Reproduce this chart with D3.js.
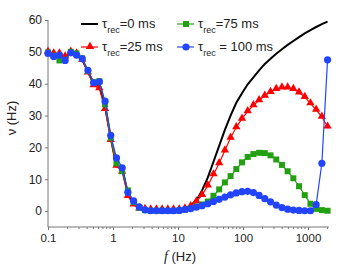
<!DOCTYPE html>
<html>
<head>
<meta charset="utf-8">
<script src="https://cdn.jsdelivr.net/npm/d3@7"></script>
<style>
  body { margin: 0; background: #fff; }
  text { font-family: "Liberation Sans", Arial, sans-serif; fill: #222; }
</style>
</head>
<body>
<script>
// frequencies (Hz), log-spaced samples
var freq = [0.1, 0.1224, 0.1498, 0.1834, 0.2245, 0.2747, 0.3362, 0.4116, 0.5038, 0.6166,
  0.7547, 0.9238, 1.131, 1.384, 1.694, 2.074, 2.538, 3.107, 3.802, 4.654,
  5.697, 6.973, 8.535, 10.45, 12.79, 15.65, 19.16, 23.45, 28.70, 35.13,
  43.00, 52.63, 64.42, 78.85, 96.5, 118.1, 144.6, 177.0, 216.6, 265.1,
  324.5, 397.2, 486.1, 595.0, 728.3, 891.4, 1091, 1335, 1634, 2000];

// output rate (Hz) per tau_rec
var rate0 = [49.8, 49, 49, 48, 49.8, 49, 47.5, 43.8, 40, 39.5,
  33, 23, 14, 13.5, 5.5, 2.5, 0.8, 0.1, 0, 0,
  0, 0, 0.1, 0.3, 0.8, 1.8, 3.3, 6.5, 10.5, 15.5,
  20.5, 25.5, 30, 34, 37, 39.8, 42, 44.2, 46.2, 47.8,
  49.4, 50.8, 52.2, 53.4, 54.6, 55.8, 56.8, 57.8, 58.7, 59.5];
var rate25 = [50, 49.5, 49.5, 48.5, 50, 49.5, 47.5, 43.5, 39.5, 38.5,
  32, 22.3, 14.2, 12.3, 4.7, 2, 0.8, 0.6, 0.5, 0.5,
  0.5, 0.5, 0.5, 0.5, 0.8, 1.5, 3, 5, 8, 11.5,
  15, 19, 23, 26.3, 29, 31.3, 33.2, 34.8, 36.2, 37.4,
  38.3, 38.8, 38.8, 38.3, 37.2, 35.8, 33.8, 31.8, 29.6, 26.5];
var rate75 = [49.8, 48.8, 47.3, 47.5, 50, 49.5, 48, 44, 40.5, 40.8,
  33.5, 23, 15, 12.5, 6.5, 2.8, 1.0, 0.3, 0.1, 0.1,
  0.1, 0.1, 0.1, 0.2, 0.4, 0.8, 1.4, 2.1, 3, 4.8,
  6.8, 9, 11, 13.2, 15.3, 17, 17.9, 18.3, 18.2, 17.5,
  16.2, 14.5, 12.5, 10.3, 7.8, 5, 2.3, 0.7, 0.3, 0.1];
var rate100 = [49.5, 48.5, 49, 47.3, 49.7, 49, 47.8, 44.2, 40.3, 40.6,
  34.5, 23.8, 16.7, 13.6, 5.9, 3.2, 1.3, 0.4, 0.1, 0.1,
  0.1, 0.1, 0.1, 0.2, 0.5, 0.8, 1.2, 1.7, 2.3, 3,
  3.7, 4.4, 5.1, 5.7, 6.1, 6.2, 5.8, 4.9, 3.9, 2.9,
  1.9, 1.1, 0.6, 0.3, 0.2, 0.1, 0.1, 2, 15, 47.5];

var xTicks = [0.1, 1, 10, 100, 1000];
var yTicks = [0, 10, 20, 30, 40, 50, 60];

var width = 364, height = 266;
var svg = d3.select("body").append("svg")
  .attr("width", width).attr("height", height);

var x = d3.scaleLog().domain([0.1, 2100]).range([48, 48 + 65 * Math.log10(21000)]);
var y = d3.scaleLinear().domain([-5, 60]).range([227, 20]);

// minor ticks for the log axis
var minor = [];
[0.1, 1, 10, 100, 1000].forEach(function (d) {
  for (var m = 2; m <= 9; m++) if (d * m <= 2100) minor.push(d * m);
});

var axisColor = "#777";

// x axis
var gx = svg.append("g").attr("transform", "translate(0," + y(-5) + ")");
gx.call(d3.axisBottom(x).tickValues(xTicks).tickFormat(function (d) { return String(d); })
  .tickSize(3).tickPadding(4));
gx.selectAll(".tick text").style("font-size", "11.5px")
  .style("font-family", "'Liberation Sans', Arial, sans-serif").attr("fill", "#222");
gx.selectAll("path, line").attr("stroke", axisColor);
gx.select(".domain").attr("d", "M" + x(0.1) + ",0H" + x(2100));
gx.selectAll(".minor").data(minor).enter().append("line")
  .attr("class", "minor")
  .attr("x1", function (d) { return x(d); }).attr("x2", function (d) { return x(d); })
  .attr("y1", 0).attr("y2", 2)
  .attr("stroke", axisColor);

// y axis
var gy = svg.append("g").attr("transform", "translate(" + x(0.1) + ",0)");
gy.call(d3.axisLeft(y).tickValues(yTicks).tickSize(3).tickPadding(3));
gy.selectAll(".tick text").style("font-size", "12px")
  .style("font-family", "'Liberation Sans', Arial, sans-serif").attr("fill", "#222");
gy.selectAll("path, line").attr("stroke", axisColor);
gy.select(".domain").attr("d", "M0," + y(60) + "V" + y(-5));

// axis titles
svg.append("text")
  .attr("transform", "translate(16," + 118 + ") rotate(-90)")
  .attr("text-anchor", "middle")
  .style("font-size", "13px")
  .text("\u03BD (Hz)");
var xl = svg.append("text")
  .attr("x", 180).attr("y", 261)
  .attr("text-anchor", "middle")
  .style("font-size", "13px");
xl.append("tspan").style("font-style", "italic")
  .style("font-family", "'Liberation Serif', 'DejaVu Serif', serif")
  .style("font-size", "14px").text("f");
xl.append("tspan").text(" (Hz)");

// series
var series = [
  { name: "0", vals: rate0, color: "#000", width: 2, marker: null },
  { name: "25", vals: rate25, color: "#ff0000", width: 1.2, marker: "tri" },
  { name: "75", vals: rate75, color: "#22a012", width: 1.2, marker: "sq" },
  { name: "100", vals: rate100, color: "#2244ff", width: 1.2, marker: "circ" }
];

var line = d3.line()
  .x(function (d) { return x(d[0]); })
  .y(function (d) { return y(d[1]); });

function drawMarker(g, kind, color) {
  if (kind === "tri") {
    g.append("path").attr("d", d3.symbol(d3.symbolTriangle, 30)()).attr("fill", color)
      .attr("transform", "translate(0,-0.5)");
  } else if (kind === "sq") {
    g.append("rect").attr("x", -3).attr("y", -3).attr("width", 6).attr("height", 6).attr("fill", color);
  } else if (kind === "circ") {
    g.append("circle").attr("r", 3.6).attr("fill", color);
  }
}

series.forEach(function (s) {
  var pts = freq.map(function (f, i) { return [f, s.vals[i]]; });
  svg.append("path").datum(pts)
    .attr("d", line)
    .attr("fill", "none")
    .attr("stroke", s.color)
    .attr("stroke-width", s.width);
  if (s.marker) {
    pts.forEach(function (p) {
      var g = svg.append("g").attr("transform", "translate(" + x(p[0]) + "," + y(p[1]) + ")");
      drawMarker(g, s.marker, s.color);
    });
  }
});

// legend
var legendPos = [
  { x: 81, y: 24 }, { x: 81, y: 47 }, { x: 177, y: 24 }, { x: 177, y: 47 }
];
var legendLabels = ["=0 ms", "=25 ms", "=75 ms", " = 100 ms"];
series.forEach(function (s, i) {
  var p = legendPos[i];
  var g = svg.append("g").attr("transform", "translate(" + p.x + "," + p.y + ")");
  g.append("line").attr("x1", 0).attr("x2", 17).attr("y1", 0).attr("y2", 0)
    .attr("stroke", s.color).attr("stroke-width", s.width);
  var mg = g.append("g").attr("transform", "translate(9,0)");
  drawMarker(mg, s.marker, s.color);
  var t = g.append("text").attr("x", 21).attr("y", 4).style("font-size", "13px");
  t.append("tspan").text("\u03C4");
  t.append("tspan").attr("dy", 5).style("font-size", "9px").text("rec");
  t.append("tspan").attr("dy", -5).text(legendLabels[i]);
});
</script>
</body>
</html>
